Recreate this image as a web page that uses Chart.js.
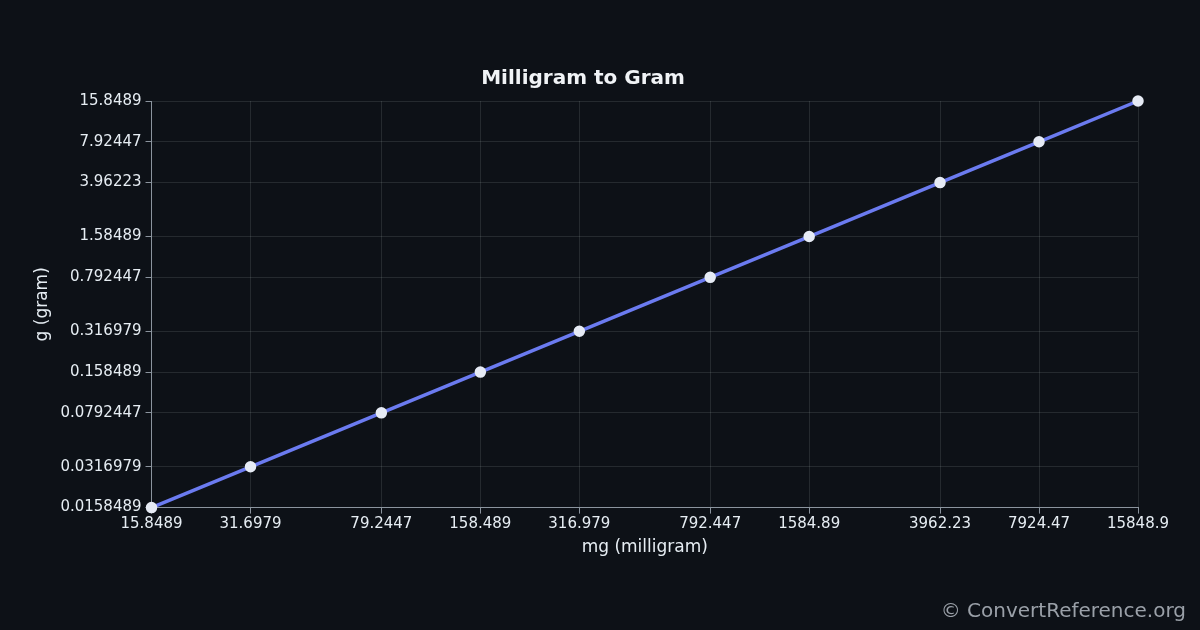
<!DOCTYPE html>
<html><head><meta charset="utf-8">
<script src="https://cdn.jsdelivr.net/npm/chart.js@4"></script>
<style>html,body{margin:0;background:#0d1117;}#w{width:1200px;height:630px;}</style>
</head><body><div id="w"><canvas id="c"></canvas></div>
<script>
const xValues=[15.8489,31.6979,79.2447,158.489,316.979,792.447,1584.89,3962.23,7924.47,15848.9];
const yValues=[0.0158489,0.0316979,0.0792447,0.158489,0.316979,0.792447,1.58489,3.96223,7.92447,15.8489];
const xTicks=xValues, yTicks=yValues;
const fontF='"DejaVu Sans", sans-serif';
const wm={id:'wm',afterDraw(c){const x=c.ctx;x.save();x.font='20px '+fontF;x.fillStyle='#9aa0a8';x.textAlign='right';x.textBaseline='alphabetic';x.fillText('© ConvertReference.org',1186,617);x.restore();}};
new Chart(document.getElementById('c'),{type:'line',
data:{datasets:[{data:xValues.map((v,i)=>({x:v,y:yValues[i]})),borderColor:'#6b7bf0',borderWidth:3.5,pointBackgroundColor:'#e6ebf5',pointBorderColor:'#e6ebf5',pointRadius:4,tension:0,clip:false}]},
options:{responsive:true,maintainAspectRatio:false,animation:false,
layout:{padding:{left:28,right:62,top:12,bottom:68}},
plugins:{legend:{display:false},tooltip:{enabled:false},title:{display:true,text:'Milligram to Gram',color:'#f0f3f6',font:{family:fontF,size:20,weight:'bold'},padding:{top:55,bottom:10}}},
scales:{
x:{type:'logarithmic',min:15.8489,max:15848.9,afterBuildTicks(s){s.ticks=xTicks.map(v=>({value:v}));},
ticks:{color:'#e6edf3',font:{family:fontF,size:15},autoSkip:false,maxRotation:0,padding:2,callback:(v)=>String(v)},
grid:{color:'rgba(200,220,210,0.13)',tickColor:'#8b949e',tickLength:6},border:{color:'#8b949e'},
title:{display:true,text:'mg (milligram)',color:'#e6edf3',font:{family:fontF,size:17},padding:{top:2}}},
y:{type:'logarithmic',min:0.0158489,max:15.8489,afterBuildTicks(s){s.ticks=yTicks.map(v=>({value:v}));},
ticks:{color:'#e6edf3',font:{family:fontF,size:15},autoSkip:false,padding:4,callback:(v)=>String(v)},
grid:{color:'rgba(200,220,210,0.13)',tickColor:'#8b949e',tickLength:6},border:{color:'#8b949e'},
title:{display:true,text:'g (gram)',color:'#e6edf3',font:{family:fontF,size:17}}}}},
plugins:[wm]});
</script></body></html>
